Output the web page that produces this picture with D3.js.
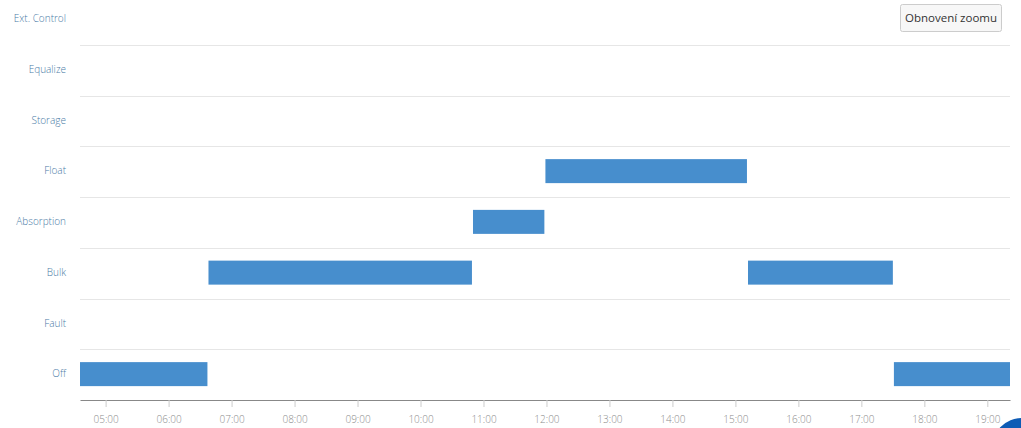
<!DOCTYPE html>
<html>
<head>
<meta charset="utf-8">
<script src="https://cdn.jsdelivr.net/npm/d3@7/dist/d3.min.js"></script>
<style>
  html, body { margin: 0; padding: 0; background: #fff; overflow: hidden; }
  svg { display: block; }
</style>
</head>
<body>
<svg id="chart" width="1021" height="428"></svg>
<script>
// ---- data ----
const states = ["Off", "Fault", "Bulk", "Absorption", "Float", "Storage", "Equalize", "Ext. Control"];
const segStates = ["Off", "Bulk", "Absorption", "Float", "Bulk", "Off"];
const segStart  = ["04:30", "06:38", "10:50", "11:59", "15:12", "17:31"];
const segEnd    = ["06:37", "10:49", "11:58", "15:11", "17:30", "19:25"];
const tickLabels = ["05:00","06:00","07:00","08:00","09:00","10:00","11:00","12:00","13:00","14:00","15:00","16:00","17:00","18:00","19:00"];
const domainStart = "04:35.6";
const domainEnd = "19:21.6";
const buttonLabel = "Obnovení zoomu";

(function () {
function toDate(s) {
  const [h, m] = s.split(":");
  const mm = parseFloat(m);
  return new Date(2020, 0, 1, +h, Math.floor(mm), Math.round((mm % 1) * 60));
}

const svg = d3.select("#chart");
const pLeft = 80, pRight = 1010, pBottom = 400;
const rowH = 50.75;
const pTop = pBottom - rowH * states.length;

const x = d3.scaleTime().domain([toDate(domainStart), toDate(domainEnd)]).range([pLeft, pRight]);
const y = d3.scaleBand().domain(states).range([pBottom, pTop]).paddingInner(0).paddingOuter(0);

svg.append("defs").append("clipPath").attr("id", "clip")
  .append("rect").attr("x", pLeft).attr("y", pTop).attr("width", pRight - pLeft).attr("height", pBottom - pTop);

// gridlines (band boundaries)
const bounds = states.slice(1).map(s => y(s) + y.bandwidth());
svg.append("g").selectAll("line").data(bounds).join("line")
  .attr("x1", pLeft).attr("x2", pRight)
  .attr("y1", d => Math.round(d) + 0.5).attr("y2", d => Math.round(d) + 0.5)
  .attr("stroke", "#e6e6e6").attr("stroke-width", 1);

// bars
const segs = segStates.map((s, i) => ({ state: s, start: toDate(segStart[i]), end: toDate(segEnd[i]) }));
const barH = 24;
svg.append("g").attr("clip-path", "url(#clip)").selectAll("rect").data(segs).join("rect")
  .attr("x", d => x(d.start))
  .attr("width", d => Math.max(0, x(d.end) - x(d.start)))
  .attr("y", d => y(d.state) + y.bandwidth() / 2 - barH / 2 - 0.5)
  .attr("height", barH)
  .attr("fill", "#478ecd");

// y labels
svg.append("g").selectAll("text").data(states).join("text")
  .attr("x", 66)
  .attr("y", d => y(d) + y.bandwidth() / 2)
  .attr("text-anchor", "end")
  .attr("dominant-baseline", "middle")
  .attr("font-family", "'Open Sans', Lato, sans-serif")
  .attr("font-weight", 300)
  .attr("font-size", "10px")
  .attr("fill", "#4a7ba6")
  .text(d => d);

// x axis
const tickDates = tickLabels.map(toDate);
const xAxis = d3.axisBottom(x).tickValues(tickDates).tickFormat((d, i) => tickLabels[i]).tickSize(7).tickSizeOuter(0);
const gx = svg.append("g").attr("transform", `translate(0,${pBottom})`).call(xAxis);
gx.select(".domain").attr("stroke", "#888").attr("stroke-width", 1.2);
gx.selectAll(".tick line").attr("stroke", "#ccc");
gx.selectAll(".tick text")
  .attr("font-family", "'Open Sans', Lato, sans-serif")
  .attr("font-weight", 300)
  .attr("font-size", "10px")
  .attr("fill", "#8c8c8c")
  .attr("dy", "0.95em")
  .attr("y", 13);

// reset zoom button
const bg = svg.append("g").attr("transform", "translate(900.5,4.5)");
bg.append("rect").attr("width", 101).attr("height", 27).attr("rx", 2)
  .attr("fill", "#f7f7f7").attr("stroke", "#cccccc");
bg.append("text").attr("x", 50.5).attr("y", 14).attr("text-anchor", "middle")
  .attr("dominant-baseline", "middle")
  .attr("font-family", "'Open Sans', Lato, sans-serif").attr("font-size", "11.5px")
  .attr("fill", "#333").text(buttonLabel);

// floating corner widget
svg.append("circle").attr("cx", 1022).attr("cy", 448).attr("r", 30).attr("fill", "#0e5cb5");
})();
</script>
</body>
</html>
